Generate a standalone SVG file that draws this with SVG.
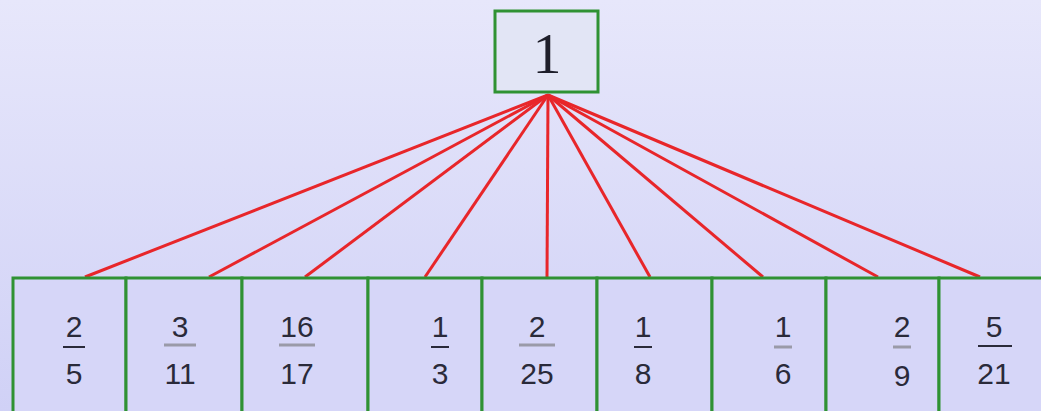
<svg xmlns="http://www.w3.org/2000/svg" width="1041" height="411" viewBox="0 0 1041 411">
<defs>
<linearGradient id="bg" x1="0" y1="0" x2="0" y2="1">
<stop offset="0" stop-color="#e7e7fb"/>
<stop offset="1" stop-color="#d0d1f6"/>
</linearGradient>
<style>
.box{fill:#d6d6f8;stroke:#2f9233;stroke-width:3}
.top{fill:#e2e5f5;stroke:#2f9233;stroke-width:3}
.edge{stroke:#e8262a;stroke-width:3;fill:none}
.num{font-family:"Liberation Sans",Arial,sans-serif;font-size:30px;fill:#2a2a3a;text-anchor:middle}
.bar{stroke:#2a2a3a;stroke-width:2}
.gbar{stroke:#9a9aa8;stroke-width:3}
.big{font-family:"Liberation Serif","Times New Roman",serif;font-size:58px;fill:#1e1e2a;text-anchor:middle}
</style>
</defs>
<rect x="0" y="0" width="1041" height="411" fill="url(#bg)"/>
<g id="connectors">
<line class="edge" x1="548" y1="95" x2="85" y2="277"/>
<line class="edge" x1="548" y1="95" x2="209" y2="277"/>
<line class="edge" x1="548" y1="95" x2="305" y2="277"/>
<line class="edge" x1="548" y1="95" x2="425" y2="277"/>
<line class="edge" x1="548" y1="95" x2="547" y2="277"/>
<line class="edge" x1="548" y1="95" x2="650" y2="277"/>
<line class="edge" x1="548" y1="95" x2="763" y2="277"/>
<line class="edge" x1="548" y1="95" x2="878" y2="277"/>
<line class="edge" x1="548" y1="95" x2="980" y2="277"/>
</g>
<g id="root">
<rect class="top" x="495" y="11" width="103" height="81"/>
<text class="big" x="547" y="73">1</text>
</g>
<g id="n1"><rect class="box" x="13" y="278" width="113" height="140"/>
<text class="num" x="74" y="337">2</text><line class="bar" x1="63" y1="347" x2="85" y2="347"/><text class="num" x="74" y="384">5</text></g>
<g id="n2"><rect class="box" x="126" y="278" width="116" height="140"/>
<text class="num" x="180" y="337">3</text><line class="gbar" x1="164" y1="345" x2="196" y2="345"/><text class="num" x="180" y="384">11</text></g>
<g id="n3"><rect class="box" x="242" y="278" width="126" height="140"/>
<text class="num" x="297" y="337">16</text><line class="gbar" x1="279" y1="345" x2="315" y2="345"/><text class="num" x="297" y="384">17</text></g>
<g id="n4"><rect class="box" x="368" y="278" width="114" height="140"/>
<text class="num" x="440" y="337">1</text><line class="bar" x1="431" y1="347" x2="449" y2="347"/><text class="num" x="440" y="384">3</text></g>
<g id="n5"><rect class="box" x="482" y="278" width="115" height="140"/>
<text class="num" x="537" y="337">2</text><line class="gbar" x1="519" y1="345" x2="555" y2="345"/><text class="num" x="537" y="384">25</text></g>
<g id="n6"><rect class="box" x="597" y="278" width="115" height="140"/>
<text class="num" x="643" y="337">1</text><line class="bar" x1="634" y1="347" x2="652" y2="347"/><text class="num" x="643" y="384">8</text></g>
<g id="n7"><rect class="box" x="712" y="278" width="114" height="140"/>
<text class="num" x="783" y="337">1</text><line class="gbar" x1="774" y1="347" x2="792" y2="347"/><text class="num" x="783" y="384">6</text></g>
<g id="n8"><rect class="box" x="826" y="278" width="113" height="140"/>
<text class="num" x="902" y="337">2</text><line class="gbar" x1="893" y1="347" x2="911" y2="347"/><text class="num" x="902" y="386">9</text></g>
<g id="n9"><rect class="box" x="939" y="278" width="110" height="140"/>
<text class="num" x="994" y="337">5</text><line class="bar" x1="978" y1="346" x2="1012" y2="346"/><text class="num" x="994" y="384">21</text></g>
</svg>
